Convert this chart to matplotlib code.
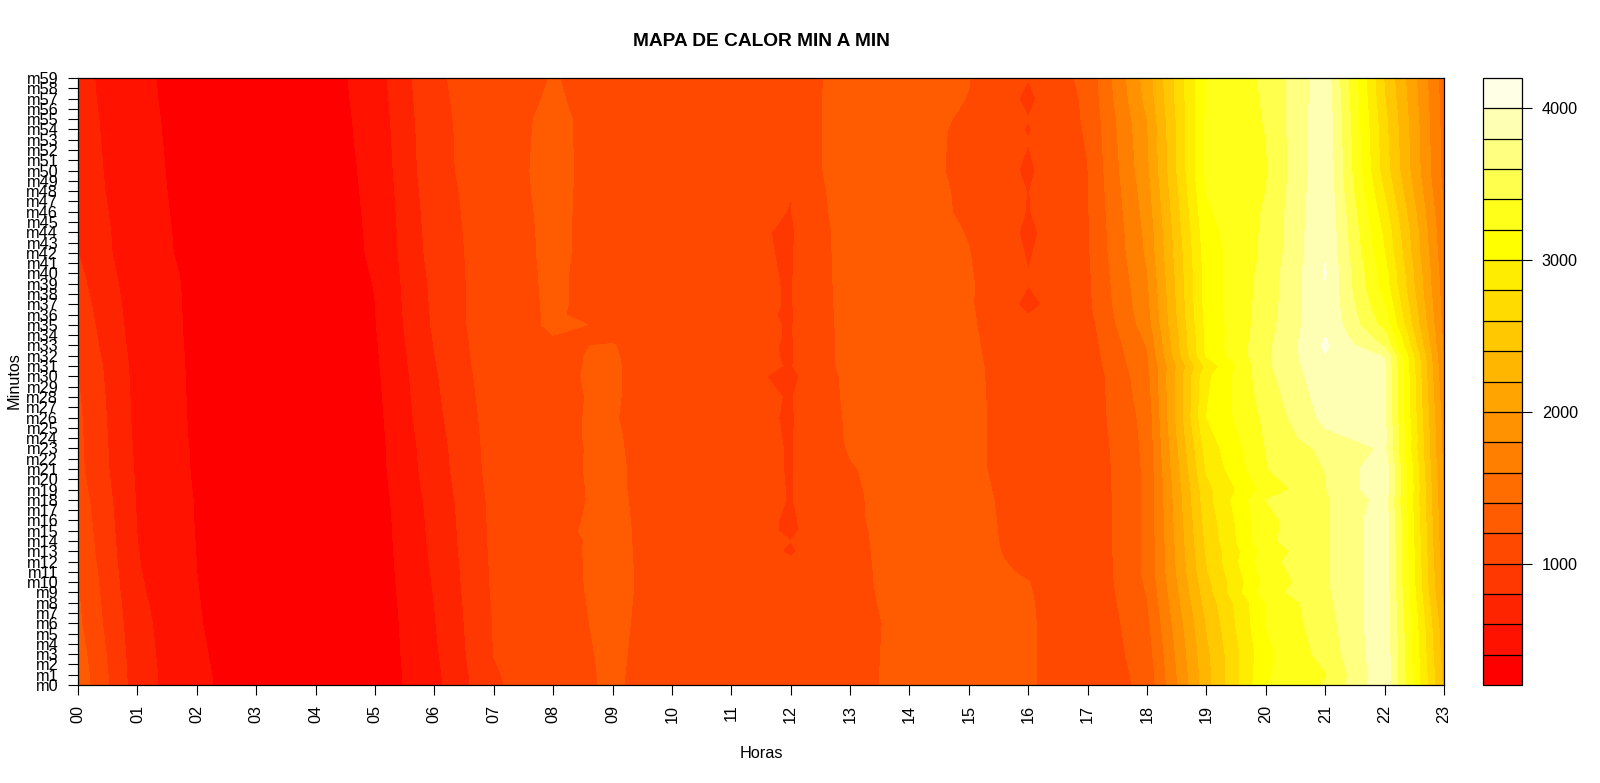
import colorsys
import numpy as np
import matplotlib
matplotlib.use("Agg")
import matplotlib.pyplot as plt
from matplotlib.colors import ListedColormap, BoundaryNorm

plt.rcParams["font.family"] = ["Liberation Sans", "DejaVu Sans"]

horas = list(range(24))
horas_labels = ["%02d" % h for h in horas]
minutos_labels = ["m%d" % m for m in range(60)]
niveles = list(range(200, 4400, 200))
ticks_barra = [1000, 2000, 3000, 4000]

# minutos (filas de la matriz)
minutos = [0, 1, 3, 6, 8, 9, 10, 11, 12, 13, 14, 15, 16, 18, 19, 21, 23, 24, 26, 28,
           30, 31, 32, 33, 34, 35, 36, 37, 39, 40, 42, 44, 46, 48, 50, 53, 54, 55, 57, 59]

valores = [
    [1330, 690, 430, 318, 250, 275, 540, 975, 1122, 1225, 1100, 1100, 1080, 1118, 1285, 1320, 1225, 1038, 1256, 2320, 3190, 3420, 3960, 2350],
    [1320, 688, 428, 318, 248, 274, 545, 982, 1125, 1226, 1102, 1100, 1078, 1118, 1283, 1320, 1225, 1035, 1265, 2325, 3180, 3385, 3955, 2340],
    [1290, 680, 420, 315, 245, 272, 565, 1003, 1135, 1228, 1115, 1100, 1070, 1118, 1278, 1320, 1228, 1025, 1300, 2350, 3150, 3470, 3950, 2300],
    [1236, 664, 410, 310, 240, 270, 589, 1009, 1153, 1230, 1130, 1100, 1060, 1118, 1270, 1320, 1230, 1010, 1350, 2410, 3205, 3510, 3950, 2250],
    [1220, 645, 406, 303, 240, 277, 600, 1018, 1155, 1235, 1130, 1095, 1055, 1124, 1290, 1315, 1222, 1012, 1390, 2470, 3199, 3545, 3940, 2170],
    [1210, 632, 404, 301, 240, 281, 608, 1024, 1156, 1238, 1129, 1092, 1052, 1126, 1300, 1310, 1215, 1015, 1410, 2510, 3318, 3560, 3935, 2130],
    [1200, 625, 402, 300, 240, 284, 615, 1028, 1157, 1240, 1128, 1090, 1050, 1128, 1308, 1305, 1205, 1018, 1425, 2540, 3257, 3570, 3930, 2100],
    [1188, 615, 400, 300, 240, 286, 622, 1030, 1158, 1240, 1127, 1090, 1040, 1130, 1310, 1300, 1170, 1020, 1440, 2580, 3300, 3570, 3930, 2090],
    [1170, 610, 398, 300, 240, 289, 630, 1034, 1160, 1238, 1127, 1088, 1015, 1135, 1310, 1290, 1145, 1022, 1438, 2600, 3337, 3570, 3930, 2080],
    [1155, 605, 396, 300, 240, 291, 638, 1037, 1165, 1237, 1126, 1087, 985, 1140, 1309, 1280, 1130, 1024, 1438, 2620, 3283, 3570, 3930, 2060],
    [1145, 600, 394, 300, 240, 293, 645, 1040, 1162, 1236, 1125, 1086, 1001, 1145, 1309, 1275, 1125, 1026, 1438, 2640, 3356, 3570, 3930, 2040],
    [1135, 595, 392, 300, 240, 295, 650, 1042, 1174, 1235, 1125, 1085, 978, 1150, 1308, 1270, 1125, 1028, 1438, 2660, 3350, 3570, 3930, 2030],
    [1125, 590, 390, 300, 240, 298, 655, 1045, 1170, 1232, 1125, 1085, 978, 1160, 1308, 1265, 1125, 1030, 1438, 2680, 3347, 3570, 3930, 2020],
    [1100, 584, 388, 300, 240, 305, 668, 1050, 1165, 1228, 1123, 1082, 993, 1165, 1305, 1255, 1125, 1032, 1438, 2720, 3400, 3575, 3875, 2000],
    [1080, 578, 384, 300, 240, 313, 680, 1058, 1170, 1225, 1122, 1080, 992, 1170, 1302, 1250, 1120, 1035, 1438, 2740, 3270, 3590, 3940, 1980],
    [1050, 570, 378, 300, 240, 323, 700, 1072, 1174, 1225, 1119, 1075, 990, 1185, 1300, 1240, 1108, 1040, 1440, 2820, 3390, 3605, 3940, 1950],
    [1045, 560, 376, 297, 243, 327, 712, 1077, 1178, 1220, 1117, 1070, 990, 1215, 1300, 1237, 1115, 1048, 1450, 2880, 3405, 3650, 3830, 1930],
    [1042, 555, 373, 295, 245, 330, 722, 1080, 1182, 1218, 1115, 1068, 988, 1225, 1300, 1235, 1120, 1055, 1455, 2920, 3420, 3750, 3870, 1920],
    [1035, 544, 371, 290, 250, 338, 745, 1087, 1190, 1210, 1110, 1060, 985, 1230, 1300, 1230, 1130, 1070, 1467, 3000, 3445, 3858, 3820, 1900],
    [1020, 540, 369, 294, 254, 348, 760, 1100, 1183, 1215, 1112, 1061, 990, 1240, 1300, 1230, 1125, 1065, 1500, 2980, 3490, 3900, 3825, 1860],
    [1000, 535, 368, 298, 258, 358, 775, 1115, 1187, 1215, 1115, 1062, 958, 1255, 1300, 1230, 1118, 1060, 1530, 2950, 3530, 3940, 3830, 1820],
    [990, 531, 367, 300, 260, 365, 785, 1125, 1185, 1215, 1115, 1062, 990, 1267, 1300, 1230, 1112, 1075, 1560, 2850, 3560, 3960, 3820, 1800],
    [970, 525, 367, 298, 262, 370, 795, 1130, 1187, 1212, 1112, 1062, 985, 1268, 1302, 1230, 1095, 1090, 1580, 3020, 3555, 3990, 3785, 1780],
    [950, 518, 366, 295, 265, 376, 805, 1134, 1190, 1206, 1105, 1060, 985, 1268, 1303, 1229, 1080, 1100, 1610, 3050, 3545, 4030, 3570, 1760],
    [935, 512, 366, 292, 268, 382, 815, 1138, 1200, 1175, 1095, 1058, 990, 1270, 1305, 1228, 1060, 1110, 1650, 3040, 3530, 3995, 3470, 1745],
    [920, 505, 366, 290, 270, 390, 828, 1142, 1214, 1190, 1085, 1052, 990, 1272, 1308, 1226, 1030, 1120, 1700, 3060, 3510, 3995, 3320, 1730],
    [905, 500, 367, 288, 272, 394, 832, 1140, 1215, 1145, 1090, 1050, 985, 1275, 1310, 1225, 1002, 1140, 1720, 3070, 3500, 3995, 3260, 1720],
    [890, 495, 368, 285, 275, 398, 838, 1138, 1217, 1150, 1095, 1050, 990, 1280, 1315, 1222, 955, 1155, 1740, 3080, 3490, 3990, 3200, 1710],
    [855, 480, 370, 278, 285, 405, 850, 1130, 1222, 1135, 1100, 1045, 990, 1285, 1320, 1220, 1005, 1160, 1770, 3085, 3480, 3995, 3090, 1690],
    [840, 470, 370, 275, 290, 410, 860, 1125, 1225, 1130, 1100, 1045, 988, 1290, 1320, 1215, 1003, 1165, 1790, 3090, 3470, 4015, 3080, 1680],
    [800, 452, 366, 270, 300, 420, 880, 1115, 1233, 1124, 1100, 1040, 985, 1294, 1310, 1205, 985, 1175, 1830, 3100, 3440, 3990, 3000, 1650],
    [770, 462, 355, 265, 295, 425, 892, 1115, 1235, 1120, 1100, 1045, 978, 1300, 1300, 1190, 965, 1180, 1850, 3130, 3435, 3990, 2950, 1630],
    [735, 470, 340, 258, 290, 432, 905, 1115, 1240, 1115, 1100, 1065, 995, 1315, 1290, 1166, 992, 1185, 1880, 3170, 3420, 3985, 2870, 1600],
    [700, 480, 320, 250, 285, 440, 920, 1113, 1250, 1100, 1100, 1085, 1002, 1330, 1290, 1160, 995, 1190, 1910, 3210, 3400, 3975, 2780, 1560],
    [680, 491, 296, 240, 279, 450, 940, 1111, 1257, 1089, 1100, 1100, 1030, 1343, 1300, 1133, 975, 1195, 1950, 3250, 3380, 3970, 2700, 1530],
    [673, 482, 288, 237, 279, 465, 947, 1105, 1254, 1092, 1103, 1105, 1050, 1330, 1295, 1143, 1004, 1212, 1975, 3240, 3398, 3962, 2670, 1530],
    [670, 478, 285, 236, 278, 470, 950, 1102, 1252, 1093, 1105, 1108, 1060, 1325, 1292, 1150, 988, 1220, 1985, 3235, 3405, 3960, 2660, 1525],
    [668, 475, 283, 235, 278, 475, 955, 1100, 1250, 1095, 1110, 1110, 1065, 1320, 1290, 1165, 1003, 1225, 2000, 3230, 3410, 3955, 2650, 1520],
    [660, 465, 275, 232, 277, 490, 965, 1095, 1225, 1105, 1120, 1115, 1085, 1300, 1280, 1195, 965, 1240, 2060, 3220, 3420, 3940, 2610, 1510],
    [655, 460, 270, 230, 276, 504, 976, 1086, 1210, 1120, 1130, 1120, 1100, 1280, 1270, 1205, 1005, 1257, 2090, 3210, 3433, 3926, 2580, 1500],
]


# misma paleta que heat.colors(20) de R
def heat_colors(n):
    j = n // 4
    i = n - j
    cols = [colorsys.hsv_to_rgb(k / (i - 1) / 6, 1, 1) for k in range(i)]
    for k in range(j):
        s = 1 - 1 / (2 * j) - k * (1 - 1 / j) / (j - 1)
        cols.append(colorsys.hsv_to_rgb(1 / 6, s, 1))
    return cols


cmap = ListedColormap(heat_colors(len(niveles) - 1))
norm = BoundaryNorm(niveles, cmap.N)

fig = plt.figure(figsize=(16, 7.83), dpi=100)
W, H = 1600, 783
ax = fig.add_axes([78 / W, 1 - 685 / H, (1444 - 78) / W, (685 - 78) / H])
cf = ax.contourf(horas, minutos, np.array(valores), levels=niveles, cmap=cmap, norm=norm)

ax.set_xlim(0, 23)
ax.set_ylim(0, 59)
ax.set_xticks(horas)
ax.set_xticklabels(horas_labels, rotation=90, fontsize=11.7)
ax.set_yticks(range(60))
ax.set_yticklabels(minutos_labels, fontsize=11.7)
ax.tick_params(length=7.2, width=0.8, pad=7)
for s in ax.spines.values():
    s.set_linewidth(0.9)

cax = fig.add_axes([1483 / W, 1 - 685 / H, (1522 - 1483) / W, (685 - 78) / H])
cb = fig.colorbar(cf, cax=cax, ticks=ticks_barra, drawedges=True, spacing="proportional")
cb.ax.tick_params(length=7.2, width=0.8, labelsize=11.7, pad=7)
cb.ax.minorticks_off()
cb.dividers.set_color("black")
cb.dividers.set_linewidth(0.9)
cb.outline.set_linewidth(0.9)

fig.text(761 / W, 1 - 41 / H, "MAPA DE CALOR MIN A MIN", ha="center", va="center",
         fontsize=13.75, fontweight="bold")
fig.text(761 / W, 1 - 754 / H, "Horas", ha="center", va="center", fontsize=11.7)
fig.text(14 / W, 1 - 381 / H, "Minutos", ha="center", va="center", rotation=90, fontsize=11.7)

fig.savefig("out.png", dpi=100)
